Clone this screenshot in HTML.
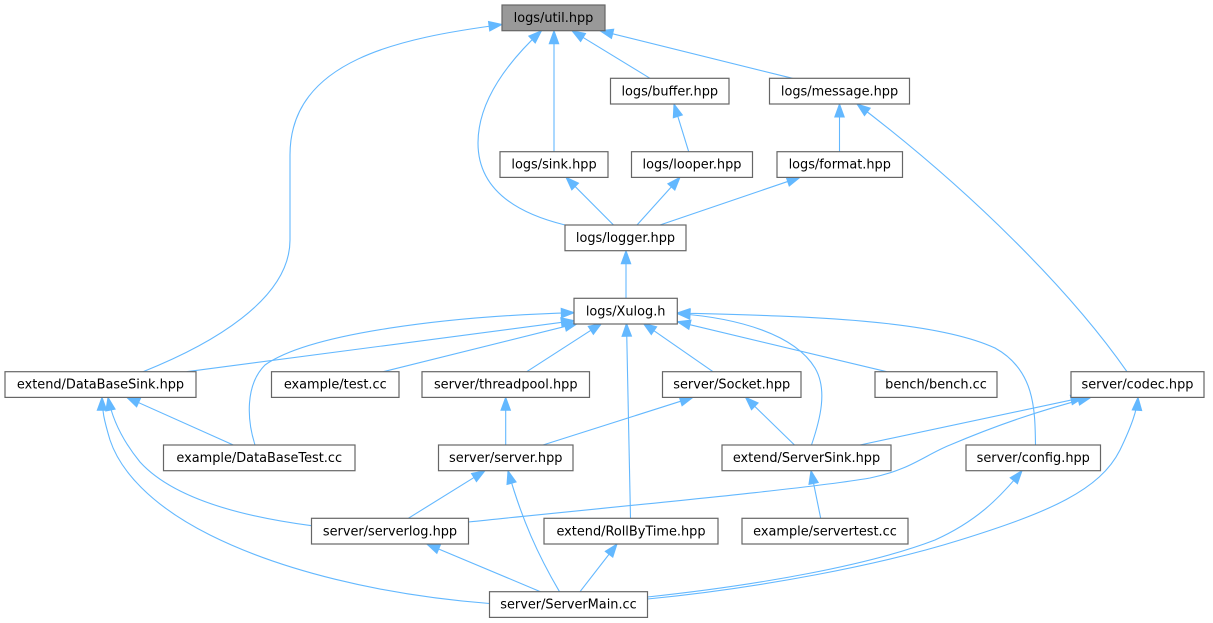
<!DOCTYPE html>
<html>
<head>
<meta charset="utf-8">
<style>
html,body{margin:0;padding:0;background:#fff;}
svg{display:block;}
text{font-family:"DejaVu Sans","Liberation Sans",sans-serif;font-size:12.9px;fill:#000;}
</style>
</head>
<body>
<svg width="1213" height="623" viewBox="0 0 1213 623" xmlns="http://www.w3.org/2000/svg">
<defs>
<marker id="a" markerUnits="userSpaceOnUse" markerWidth="14" markerHeight="10" refX="13" refY="4.75" orient="auto" viewBox="0 0 14 10" overflow="visible">
<path d="M0,0 L13,4.75 L0,9.5 z" fill="#63b8ff" stroke="#63b8ff" stroke-width="1"/>
</marker>
</defs>
<rect width="1213" height="623" fill="#fff"/>
<g fill="none" stroke="#63b8ff" stroke-width="1.1" marker-end="url(#a)">
<path d="M143,371.7 C210,345 290,300 290,240 L290,155 C290,60 400,38 502,24.5"/>
<path d="M565,225 C520,214 478,192 478,143 C478,100 510,60 541.5,30.7"/>
<path d="M554,151.7 L554,30.7"/>
<path d="M650,78.3 L572,30.7"/>
<path d="M792.5,78.3 L600,30.7"/>
<path d="M688.7,151.7 L674,104"/>
<path d="M839.5,151.7 L839.5,104"/>
<path d="M1127,371.7 C1070,290 970,190 857,104"/>
<path d="M613.5,225 L566,177.3"/>
<path d="M637,225 L680,177.3"/>
<path d="M660,225 L800,177.3"/>
<path d="M626,298.3 L626,250.7"/>
<path d="M186.7,371.7 L574.3,320.7"/>
<path d="M383.3,371.7 L577.7,323.3"/>
<path d="M526.7,371.7 L601.7,323.3"/>
<path d="M255,445 C247,420 245,385 265,365 C310,333 450,316 574.3,312.7"/>
<path d="M713,371.7 L643.3,323.3"/>
<path d="M886.7,371.7 L677.3,321.7"/>
<path d="M811.5,445 C820,420 828,390 815,368 C795,335 740,318 677,313.5"/>
<path d="M1035.5,445 C1035,410 1035,370 995,348 C930,318 790,316 677,313"/>
<path d="M630.5,518.3 L626.5,323.3"/>
<path d="M505.7,445 L505.7,397.3"/>
<path d="M543,445 L693,397.3"/>
<path d="M794.5,445 L745.5,397.3"/>
<path d="M860,445 L1084,397.3"/>
<path d="M468.3,522 C600,508 800,490 870,478 C910,470 925,455 950,445 C990,428 1040,410 1091,397.3"/>
<path d="M647.5,599 C760,588 880,565 960,540 C1050,512 1100,490 1120,450 C1132,425 1137,410 1138,397.3"/>
<path d="M647.5,597 C760,585 870,565 935,540 C975,522 998,500 1022,470.7"/>
<path d="M233.3,445 L126.7,397.3"/>
<path d="M311.5,525.7 C230,515 170,495 140,462 C122,440 112,418 108,397.3"/>
<path d="M489.5,603.5 C380,595 280,570 210,535 C150,505 120,470 110,440 C104,420 102,410 102,397.3"/>
<path d="M408.3,518.3 L485,470.7"/>
<path d="M559.5,591.7 C538,555 522,520 508,470.7"/>
<path d="M540.5,591.7 L426.7,544"/>
<path d="M580,591.7 L617,544"/>
<path d="M820.7,518.3 L811,470.7"/>
</g>
<g stroke="#666" stroke-width="1.2" fill="#fff">
<rect x="502" y="5" width="103" height="25.7" fill="#999"/>
<rect x="610.5" y="78.3" width="118.5" height="25.7"/>
<rect x="769.5" y="78.3" width="140" height="25.7"/>
<rect x="500" y="151.7" width="108" height="25.7"/>
<rect x="631.5" y="151.7" width="121" height="25.7"/>
<rect x="777" y="151.7" width="125.5" height="25.7"/>
<rect x="565" y="225" width="121" height="25.7"/>
<rect x="574" y="298.3" width="103.3" height="25.7"/>
<rect x="5" y="371.7" width="191" height="25.7"/>
<rect x="271.5" y="371.7" width="127.5" height="25.7"/>
<rect x="422" y="371.7" width="167.5" height="25.7"/>
<rect x="662.5" y="371.7" width="138.5" height="25.7"/>
<rect x="875" y="371.7" width="122" height="25.7"/>
<rect x="1071" y="371.7" width="133" height="25.7"/>
<rect x="163.5" y="445" width="191.5" height="25.7"/>
<rect x="438.5" y="445" width="134.5" height="25.7"/>
<rect x="722" y="445" width="169" height="25.7"/>
<rect x="966" y="445" width="134.5" height="25.7"/>
<rect x="311.5" y="518.3" width="157" height="25.7"/>
<rect x="544" y="518.3" width="174" height="25.7"/>
<rect x="742" y="518.3" width="166" height="25.7"/>
<rect x="489.5" y="591.7" width="158" height="25.7"/>
</g>
<g text-anchor="middle">
<text x="553.5" y="22">logs/util.hpp</text>
<text x="669.75" y="95.3">logs/buffer.hpp</text>
<text x="839.5" y="95.3">logs/message.hpp</text>
<text x="554" y="168.7">logs/sink.hpp</text>
<text x="692" y="168.7">logs/looper.hpp</text>
<text x="839.75" y="168.7">logs/format.hpp</text>
<text x="625.5" y="242">logs/logger.hpp</text>
<text x="625.65" y="315.3">logs/Xulog.h</text>
<text x="100.5" y="388.7">extend/DataBaseSink.hpp</text>
<text x="335.25" y="388.7">example/test.cc</text>
<text x="505.75" y="388.7">server/threadpool.hpp</text>
<text x="731.75" y="388.7">server/Socket.hpp</text>
<text x="936" y="388.7">bench/bench.cc</text>
<text x="1137.5" y="388.7">server/codec.hpp</text>
<text x="259.25" y="462">example/DataBaseTest.cc</text>
<text x="505.75" y="462">server/server.hpp</text>
<text x="806.5" y="462">extend/ServerSink.hpp</text>
<text x="1033.25" y="462">server/config.hpp</text>
<text x="390" y="535.3">server/serverlog.hpp</text>
<text x="631" y="535.3">extend/RollByTime.hpp</text>
<text x="825" y="535.3">example/servertest.cc</text>
<text x="568.5" y="608.7">server/ServerMain.cc</text>
</g>
</svg>
</body>
</html>
